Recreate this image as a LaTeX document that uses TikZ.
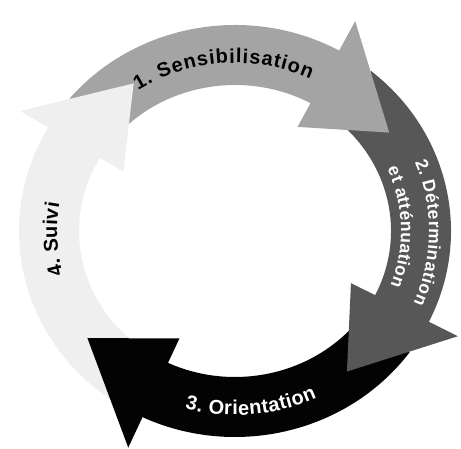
\documentclass[tikz,border=0pt]{standalone}
\usepackage{fontspec}
\setmainfont{Liberation Sans}
\usetikzlibrary{decorations.text}
\definecolor{cGray}{HTML}{A4A4A4}
\definecolor{cDark}{HTML}{575757}
\definecolor{cBlack}{HTML}{030303}
\definecolor{cLight}{HTML}{EFEFEF}
\newcommand{\lblfont}{\bfseries\fontsize{20}{22}\selectfont}
\newcommand{\lblfontb}{\bfseries\fontsize{17.5}{19}\selectfont}
% ring geometry (pt = px)
\def\Rox{216}\def\Roy{206}
\def\Rix{156}\def\Riy{146}
\def\Rmx{186}\def\Rmy{176}
\def\Hox{248}\def\Hoy{240}
\def\Hix{129}\def\Hiy{119}
\def\HL{27}
\newcommand{\cycband}[3]{%
  \fill[#1] (#2:\Rox\space and \Roy) arc[start angle=#2, end angle=#3, x radius=\Rox, y radius=\Roy]
    -- (#3:\Rix\space and \Riy) arc[start angle=#3, end angle=#2, x radius=\Rix, y radius=\Riy] -- cycle;}
\newcommand{\cychead}[2]{%
  \pgfmathsetmacro\tipang{#2-\HL}%
  \fill[#1] (#2:\Hox\space and \Hoy) -- (\tipang:\Rmx\space and \Rmy) -- (#2:\Hix\space and \Hiy) -- cycle;}
\begin{document}
\begin{tikzpicture}[x=1pt,y=1pt,
  lbl/.style={decorate, decoration={text along path, text align={fit to path}}}]
\useasboundingbox (0,0) rectangle (461,449);
\begin{scope}[shift={(235,218)}]
  % bands (tails lie under the previous arrowhead)
  \cycband{cGray}{140}{59}
  \cycband{cDark}{51}{-28}
  \cycband{cBlack}{-36}{-117.5}
  \cycband{cLight}{234.5}{148}
  % arrowheads
  \cychead{cGray}{61}
  \cychead{cDark}{-26}
  \cychead{cBlack}{-115.5}
  \cychead{cLight}{150}
  % labels
  \path[lbl, decoration={text={|\lblfont|1. Sensibilisation}}]
    (123:178 and 168) arc[start angle=123, end angle=65, x radius=178, y radius=168];
  \path[lbl, decoration={text={|\lblfontb|2. Détermination}, text color=white}]
    (22:194 and 184) arc[start angle=22, end angle=-23, x radius=194, y radius=184];
  \path[lbl, decoration={text={|\lblfontb|et atténuation}, text color=white}]
    (23.5:166 and 156) arc[start angle=23.5, end angle=-20.5, x radius=166, y radius=156];
  \path[lbl, decoration={text={|\lblfont|3. Orientation}, text color=white}]
    (255:194 and 184) arc[start angle=255, end angle=295, x radius=194, y radius=184];
  \path[lbl, decoration={text={|\lblfont|4. Suivi}}]
    (195:178 and 168) arc[start angle=195, end angle=170.5, x radius=178, y radius=168];
\end{scope}
\end{tikzpicture}
\end{document}
